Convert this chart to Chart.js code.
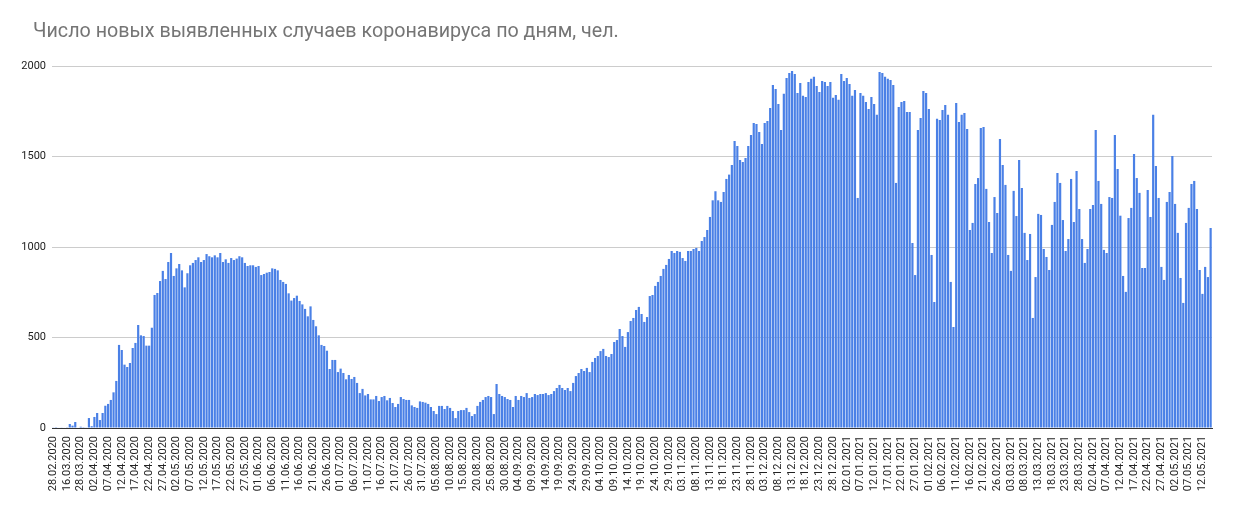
<!DOCTYPE html>
<html>
<head>
<meta charset="utf-8">
<script src="https://cdn.jsdelivr.net/npm/chart.js@4"></script>
<style>
  html, body { margin: 0; padding: 0; background: #fff; }
  #wrap { width: 1233px; height: 517px; }
</style>
</head>
<body>
<div id="wrap"><canvas id="casesChart" width="1233" height="517"></canvas></div>
<script>
const chartTitle = 'Число новых выявленных случаев коронавируса по дням, чел.';

// first days are not consecutive, from 02.04.2020 the data is daily
const earlyDates = [
    '28.02.2020', '03.03.2020', '05.03.2020', '10.03.2020', '13.03.2020',
    '16.03.2020', '18.03.2020', '20.03.2020', '23.03.2020', '25.03.2020',
    '28.03.2020', '29.03.2020', '30.03.2020', '31.03.2020', '01.04.2020'
];
const dailyFrom = '2020-04-02';

const newCases = [
    2, 1, 3, 2, 3, 4, 22, 13, 33, 3, 7, 1, 2, 55, 10,
    61, 83, 44, 83, 123, 133, 155, 197, 260, 459, 431, 350, 337, 359, 442,
    470, 569, 512, 508, 455,
    455, 554, 735, 746, 812, 868, 823, 917, 967, 840, 882, 906, 871, 777, 855,
    899, 912, 928, 943, 917, 928, 961, 949, 943, 954, 943, 967, 917, 932, 912,
    939, 928, 936, 949, 943, 912,
    895, 899, 899, 890, 895, 845, 851, 858, 862, 882, 879, 871, 818, 807, 796,
    744, 704, 718, 731, 702, 683, 658, 617, 672, 597, 562, 512, 459, 453, 427,
    326, 376, 376, 309, 328,
    304, 269, 293, 271, 282, 249, 193, 216, 180, 188, 158, 158, 177, 149, 171,
    177, 153, 166, 138, 116, 133, 171, 160, 155, 155, 125, 116, 111, 147, 144,
    140, 133, 116, 94, 77,
    122, 122, 105, 122, 111, 94, 55, 94, 99, 99, 111, 88, 66, 77, 122,
    144, 155, 171, 177, 171, 77, 243, 188, 177, 171, 160, 155, 116, 177, 155,
    177, 171, 193, 166, 171, 188,
    182, 188, 188, 193, 182, 188, 204, 221, 238, 221, 210, 221, 204, 249, 287,
    304, 326, 315, 332, 309, 365, 387, 398, 425, 437, 398, 392, 409, 475, 486,
    547, 508, 448, 530, 591,
    608, 652, 669, 630, 586, 613, 729, 735, 785, 807, 840, 879, 901, 934, 978,
    967, 978, 973, 939, 923, 978, 978, 989, 995, 978, 1033, 1055, 1094, 1166, 1258,
    1308, 1258, 1249, 1304, 1376, 1400,
    1453, 1586, 1558, 1481, 1470, 1492, 1558, 1619, 1685, 1680, 1636, 1569, 1685, 1696, 1768,
    1895, 1873, 1790, 1647, 1846, 1934, 1962, 1973, 1956, 1851, 1906, 1835, 1829, 1912, 1929,
    1940, 1890, 1857, 1917, 1912,
    1890, 1912, 1824, 1840, 1813, 1956, 1917, 1934, 1901, 1835, 1868, 1271, 1851, 1835, 1801,
    1763, 1829, 1790, 1730, 1967, 1962, 1940, 1929, 1923, 1895, 1354, 1774, 1801, 1807, 1746,
    1746, 1022, 845, 1647, 1713, 1862,
    1851, 1763, 956, 696, 1708, 1702, 1757, 1785, 1730, 807, 558, 1796, 1691, 1730, 1741,
    1652, 1094, 1133, 1348, 1381, 1658, 1663, 1321, 1138, 967, 1276, 1188, 1597, 1453, 1343,
    956, 868, 1310, 1171, 1481,
    1326, 1078, 928, 1072, 608, 834, 1183, 1177, 989, 945, 873, 1122, 1249, 1409, 1354,
    1149, 978, 1044, 1376, 1138, 1420, 1210, 1044, 912, 989, 1210, 1232, 1647, 1365, 1238,
    984, 967, 1276, 1271, 1619, 1431,
    1173, 840, 752, 1160, 1216, 1514, 1381, 1299, 884, 884, 1315, 1166, 1730, 1448, 1271,
    890, 818, 1249, 1304, 1503, 1238, 1078, 829, 691, 1133, 1216, 1348, 1365, 1210, 873,
    741, 890, 834, 1105
];

const yTicks = [0, 500, 1000, 1500, 2000];
const labelEvery = 5;

function pad(n) {
    return n < 10 ? '0' + n : '' + n;
}

const dates = earlyDates.slice();
const day = new Date(dailyFrom + 'T00:00:00Z');
while (dates.length < newCases.length) {
    dates.push(pad(day.getUTCDate()) + '.' + pad(day.getUTCMonth() + 1) + '.' + day.getUTCFullYear());
    day.setUTCDate(day.getUTCDate() + 1);
}

const titlePlugin = {
    id: 'sheetTitle',
    afterDraw(chart) {
        const ctx = chart.ctx;
        ctx.save();
        ctx.font = '19.7px Roboto';
        ctx.fillStyle = '#757575';
        ctx.textBaseline = 'middle';
        ctx.textAlign = 'left';
        ctx.fillText(chartTitle, 33, 32);
        ctx.restore();
    }
};

const ctx = document.getElementById('casesChart');

new Chart(ctx, {
    type: 'bar',
    data: {
        labels: dates,
        datasets: [{
            label: 'Новые случаи',
            data: newCases,
            backgroundColor: '#4a80e6',
            borderWidth: 0,
            categoryPercentage: 1,
            barPercentage: 0.8
        }]
    },
    options: {
        responsive: false,
        animation: false,
        layout: {
            padding: { top: 66, right: 21, bottom: 0, left: 0 }
        },
        plugins: {
            legend: { display: false },
            title: { display: false },
            tooltip: { enabled: false }
        },
        scales: {
            x: {
                grid: { display: false, drawTicks: false },
                border: { display: true, color: '#333333', width: 1 },
                ticks: {
                    autoSkip: false,
                    maxRotation: 90,
                    minRotation: 90,
                    padding: 8,
                    color: '#222222',
                    font: { family: 'Roboto', size: 11 },
                    callback: function(value, index) {
                        return index % labelEvery === 0 ? this.getLabelForValue(value) : '';
                    }
                },
                afterFit: function(scale) {
                    scale.height = 89;
                }
            },
            y: {
                min: 0,
                max: 2000,
                afterBuildTicks: function(scale) {
                    scale.ticks = yTicks.map(v => ({ value: v }));
                },
                grid: {
                    color: ctx => ctx.tick && ctx.tick.value === 0 ? '#333333' : '#cccccc',
                    drawTicks: false
                },
                border: { display: false },
                ticks: {
                    padding: 6,
                    color: '#222222',
                    font: { family: 'Roboto', size: 11 },
                    callback: value => String(value)
                },
                afterFit: function(scale) {
                    scale.width = 52;
                }
            }
        }
    },
    plugins: [titlePlugin]
});
</script>
</body>
</html>
